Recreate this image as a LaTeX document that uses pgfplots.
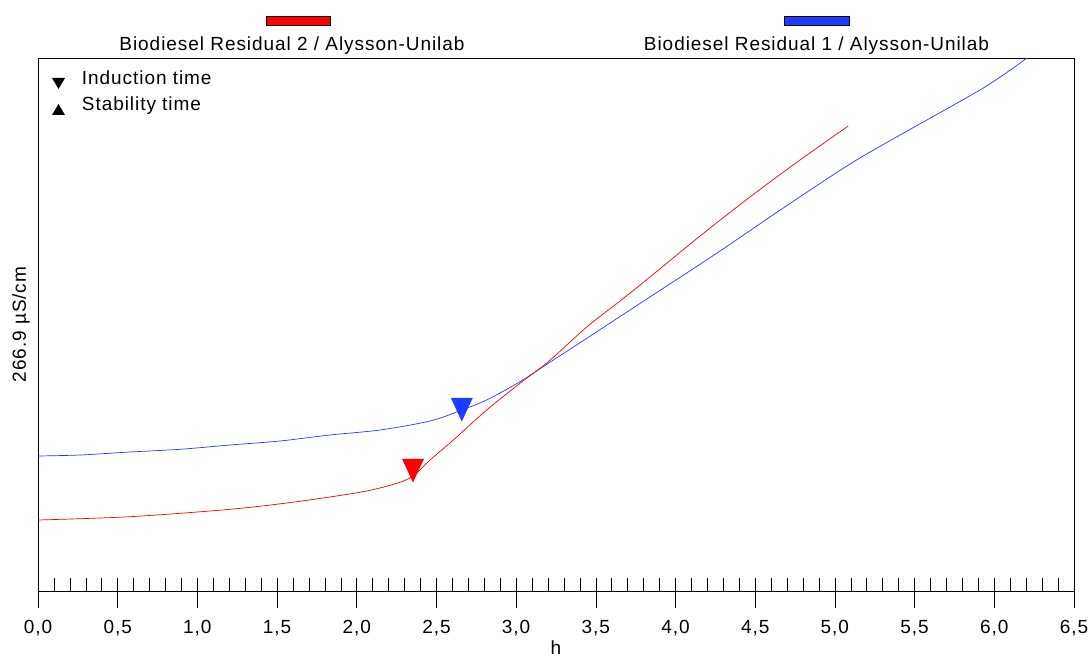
\documentclass[border=0pt]{standalone}
\usepackage{fontspec}
\setmainfont{Liberation Sans}[LetterSpace=5]
\usepackage{pgfplots}
\pgfplotsset{compat=1.18}
\definecolor{rred}{RGB}{255,0,0}
\definecolor{bblue}{RGB}{30,60,255}
\begin{document}
\fontsize{19}{22}\selectfont
\begin{tikzpicture}[x=1pt,y=1pt]
\useasboundingbox (-38,-66) rectangle (1052,591);
\begin{axis}[
  at={(0,0)}, anchor=south west,
  scale only axis, width=1036pt, height=533pt,
  xmin=0, xmax=6.5, ymin=0, ymax=533,
  axis line style={black, line width=0.7pt},
  xtick={0,0.5,1,1.5,2,2.5,3,3.5,4,4.5,5,5.5,6,6.5},
  minor x tick num=4,
  ytick=\empty,
  tick align=center, xtick pos=bottom,
  major tick length=30pt, minor tick length=13pt,
  every minor tick/.append style={yshift=6.5pt},
  every major tick/.append style={yshift=-2pt},
  tick style={black, line width=0.6pt},
  x tick label style={yshift=-8pt, /pgf/number format/.cd, use comma, fixed, fixed zerofill, precision=1, assume math mode=true},
  xlabel={h},
  every axis x label/.style={at={(axis description cs:0.5,0)}, anchor=base, yshift=-63pt},
  ylabel={266.9 µS/cm},
  every axis y label/.style={at={(axis description cs:0,0.5)}, rotate=90, anchor=center, yshift=17pt},
  clip=false,
]
\addplot[bblue, line width=0.7pt, smooth] coordinates {
(0.000,135) (0.264,136) (0.577,139) (0.891,141.7) (1.205,146) (1.518,150)
(1.832,156) (2.146,161) (2.460,170) (2.659,181) (2.815,191) (3.024,209.3)
(3.202,227.7) (3.443,252.7) (3.652,274.5) (3.840,294.1) (4.258,337.7)
(4.676,383) (5.095,427) (5.409,456) (5.931,503) (6.203,532.7)
};
\addplot[rred, line width=0.7pt, smooth] coordinates {
(0.000,71) (0.577,74.3) (1.205,81.7) (1.623,89.3) (2.039,99.3) (2.251,107.7)
(2.353,115) (2.460,131) (2.606,151) (2.815,181) (3.024,207.7) (3.202,229.3) (3.443,264)
(3.652,290) (3.840,314) (4.154,355) (4.467,394) (4.781,431) (5.084,465)
};
\addplot[only marks, mark=triangle*, mark size=15.3pt, mark options={rotate=180, xscale=0.8, draw=bblue, fill=bblue}] coordinates {(2.659,185.3)};
\addplot[only marks, mark=triangle*, mark size=15.3pt, mark options={rotate=180, xscale=0.8, draw=rred, fill=rred}] coordinates {(2.353,124.3)};
\end{axis}
\fill (14,513) -- (27,513) -- (20.5,502) -- cycle;
\fill (14,476) -- (27,476) -- (20.5,487) -- cycle;
\node[anchor=base west, inner sep=0] at (43.7,506.7) {Induction time};
\node[anchor=base west, inner sep=0] at (43.7,480.3) {Stability time};
\filldraw[fill=rred, draw=black, line width=0.5pt] (228,566) rectangle (292,575);
\filldraw[fill=bblue, draw=black, line width=0.5pt] (746,566) rectangle (811,575);
\node[anchor=base, inner sep=0] at (254,540) {Biodiesel Residual 2 / Alysson-Unilab};
\node[anchor=base, inner sep=0] at (778.5,540) {Biodiesel Residual 1 / Alysson-Unilab};
\end{tikzpicture}
\end{document}
